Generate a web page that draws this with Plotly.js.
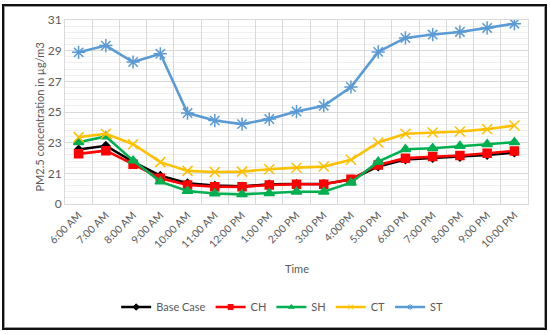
<!DOCTYPE html>
<html>
<head>
<meta charset="utf-8">
<script src="https://cdn.plot.ly/plotly-3.0.1.min.js"></script>
<style>
  html, body { margin: 0; padding: 0; background: #fff; }
  #chart { position: absolute; left: 0; top: 0; width: 550px; height: 335px; }
  #frame { position: absolute; left: 2px; top: 4px; width: 545px; height: 326px; box-sizing: border-box;
           border: 2px solid #111; box-shadow: inset 0 0 0 1px #9a9a9a; pointer-events: none; }
</style>
</head>
<body>
<div id="chart"></div>
<div id="frame"></div>
<script>
// Categories (time of day)
const times = ["6:00 AM","7:00 AM","8:00 AM","9:00 AM","10:00 AM","11:00 AM","12:00 PM","1:00 PM","2:00 PM","3:00 PM","4:00PM","5:00 PM","6:00 PM","7:00 PM","8:00 PM","9:00 PM","10:00 PM"];

// Series values (plotted on the chart's own scale; bottom gridline is labelled "0")
const baseCase = [22.55,22.80,21.75,20.85,20.35,20.20,20.15,20.28,20.30,20.30,20.60,21.45,21.90,22.00,22.07,22.20,22.35];
const ch       = [22.27,22.48,21.60,20.68,20.24,20.13,20.12,20.24,20.29,20.29,20.61,21.55,21.99,22.09,22.16,22.31,22.46];
const sh       = [23.03,23.40,21.83,20.46,19.85,19.68,19.63,19.70,19.80,19.80,20.39,21.76,22.57,22.64,22.79,22.90,23.03];
const ct       = [23.36,23.58,22.90,21.73,21.16,21.09,21.11,21.27,21.37,21.44,21.88,23.01,23.58,23.66,23.73,23.88,24.12];
const st       = [28.89,29.33,28.26,28.80,24.93,24.44,24.21,24.54,25.03,25.41,26.63,28.92,29.83,30.05,30.22,30.48,30.76];

// Y tick positions and labels
const yTickVals = [19,21,23,25,27,29,31];
const yTickText = ["0","21","23","25","27","29","31"];

const FONT = "Lato, 'Open Sans', sans-serif";
const GREY = "#595959";

const styles = [
  { name: "Base Case", y: baseCase, color: "#000000", symbol: "diamond", size: 6 },
  { name: "CH", y: ch, color: "#FF0000", symbol: "square", size: 8 },
  { name: "SH", y: sh, color: "#00B050", symbol: "triangle-up", size: 9 },
  { name: "CT", y: ct, color: "#FFC000", symbol: "x-thin-open", size: 10 },
  { name: "ST", y: st, color: "#5B9BD5", symbol: "asterisk-open", size: 11 }
];

const data = [];
styles.forEach(s => {
  data.push({
    type: "scatter", mode: "lines+markers", name: s.name, showlegend: false,
    x: times, y: s.y,
    line: { color: s.color, width: 2.6 },
    marker: { color: s.color, symbol: s.symbol, size: s.size, line: { color: s.color, width: 1.5 } }
  });
});
// legend entries with small markers, as in the original
styles.forEach(s => {
  data.push({
    type: "scatter", mode: "lines+markers", name: s.name, showlegend: true,
    x: [null], y: [null],
    line: { color: s.color, width: 2.6 },
    marker: { color: s.color, symbol: s.symbol, size: 5, line: { color: s.color, width: 1 } }
  });
});

const layout = {
  width: 550, height: 335,
  margin: { l: 65, r: 22, t: 20, b: 131 },
  paper_bgcolor: "#ffffff", plot_bgcolor: "#ffffff",
  font: { family: FONT, size: 11, color: GREY },
  showlegend: true,
  legend: { orientation: "h", x: 0.469, xanchor: "center", y: -0.56, yanchor: "middle",
            font: { family: FONT, size: 11, color: GREY }, traceorder: "normal" },
  xaxis: {
    type: "category", tickson: "boundaries", showgrid: true, gridcolor: "#D9D9D9", gridwidth: 1,
    tickangle: -45, tickfont: { family: FONT, size: 10.5, color: GREY },
    ticks: "", showline: true, linecolor: "#D9D9D9", mirror: true, zeroline: false,
    range: [-0.5, 16.5], fixedrange: true
  },
  yaxis: {
    range: [19, 31], tickmode: "array", tickvals: yTickVals, ticktext: yTickText,
    showgrid: true, gridcolor: "#D9D9D9", gridwidth: 1, zeroline: false,
    minor: { dtick: 0.4, tick0: 19, showgrid: true, gridcolor: "#EFEFEF", gridwidth: 1 },
    tickfont: { family: FONT, size: 12, color: GREY }, ticks: "", ticklen: 0,
    showline: true, linecolor: "#D9D9D9", mirror: true
  },
  annotations: [
    { text: "Time", xref: "paper", yref: "paper", x: 0.50, y: -0.353, xanchor: "center", yanchor: "middle",
      showarrow: false, font: { family: FONT, size: 11, color: GREY } },
    { text: "PM2.5 concentration in µg/m3", xref: "paper", yref: "paper", x: 0, xshift: -25,
      y: 0.47, xanchor: "center", yanchor: "middle", textangle: -90,
      showarrow: false, font: { family: FONT, size: 11, color: GREY } }
  ]
};

Plotly.newPlot("chart", data, layout, { displayModeBar: false, staticPlot: true });
</script>
</body>
</html>
